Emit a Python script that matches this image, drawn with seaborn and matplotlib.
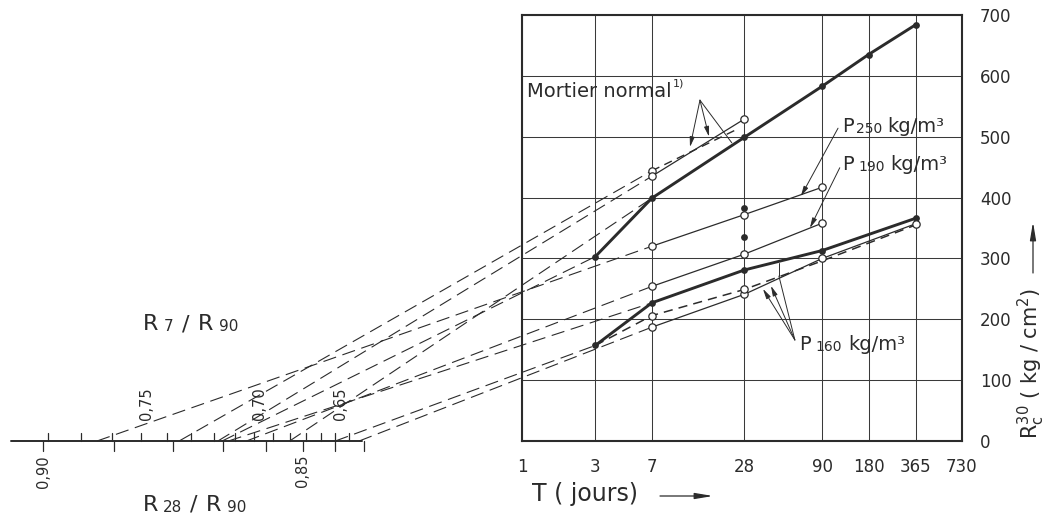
import numpy as np
import pandas as pd
import matplotlib
matplotlib.use("Agg")
import matplotlib.pyplot as plt
import seaborn as sns

# ---------------- data ----------------
x_tick_days = [1, 3, 7, 28, 90, 180, 365, 730]
x_tick_labels = ["1", "3", "7", "28", "90", "180", "365", "730"]
y_ticks = [0, 100, 200, 300, 400, 500, 600, 700]

# Mortier normal : thick curve with filled points
normal_t = [3, 7, 28, 90, 180, 365]
normal_R = [303, 399, 499, 583, 635, 684]
# Mortier normal : thin solid and dashed lines (open points)
normal_thin_t = [7, 28]
normal_thin_R = [435, 529]
normal_dash_t = [7, 25]
normal_dash_R = [444, 512]
normal_open_t = [7, 7, 28]
normal_open_R = [444, 435, 529]

# P250 / P190 (thin, open points)
p250_t = [7, 28, 90]
p250_R = [320, 372, 417]
p190_t = [7, 28, 90]
p190_R = [254, 307, 358]

# P160 : thick (filled), thin (open), dashed
p160_thick_t = [3, 7, 28, 90, 365]
p160_thick_R = [157, 227, 281, 313, 366]
p160_thin_t = [7, 28, 90, 365]
p160_thin_R = [187, 241, 300, 357]
p160_dash_t = [3, 7, 28, 90, 365]
p160_dash_R = [157, 206, 249, 296, 355]
p160_dash_open_t = [7, 28]
p160_dash_open_R = [206, 249]

# isolated filled points at 28 days
extra_filled_t = [28, 28]
extra_filled_R = [383, 335]

# nomogram scales
r7_ticks = [0.78, 0.77, 0.76, 0.75, 0.74, 0.73, 0.72, 0.71, 0.70,
            0.69, 0.68, 0.67, 0.66, 0.65, 0.64]
r7_labels = [0.75, 0.70, 0.65]
r28_ticks = [0.90, 0.89, 0.88, 0.87, 0.86, 0.85, 0.84, 0.83]
r28_labels = [0.90, 0.85]
scale_ends_r28 = [0.904]
scale_ends_r7 = [0.630]

# construction lines: anchor point (t, R) -> value read on R7/R90 scale
constr_t = [7, 7, 7, 7, 7, 3, 7, 3, 7]
constr_R = [444, 435, 320, 254, 399, 303, 227, 157, 187]
constr_r = [0.735, 0.718, 0.765, 0.704, 0.680, 0.716, 0.713, 0.650, 0.632]

# ---------------- style ----------------
sns.set_theme(style="white")
plt.rcParams['font.family'] = ['DejaVu Sans']
INK = '#2b2b2b'
plt.rcParams['text.color'] = INK
plt.rcParams['axes.labelcolor'] = INK
plt.rcParams['xtick.color'] = INK
plt.rcParams['ytick.color'] = INK

fig = plt.figure(figsize=(10.49, 5.19), dpi=100, facecolor='white')
ax = fig.add_axes([0.4976, 0.1503, 0.4194, 0.8208])
ax.set_facecolor('white')


def line(t, R, lw=0.9, ls='-', zorder=3):
    df = pd.DataFrame({'t': t, 'R': R})
    sns.lineplot(data=df, x='t', y='R', ax=ax, color=INK, lw=lw,
                 linestyle=ls, estimator=None, sort=False, zorder=zorder)


def filled(t, R):
    ax.scatter(t, R, s=24, color=INK, zorder=5, linewidths=0)


def opened(t, R):
    ax.scatter(t, R, s=28, facecolor='white', edgecolor=INK,
               linewidths=0.9, zorder=6)


# main curves
line(normal_t, normal_R, lw=2.1)
filled(normal_t, normal_R)
line(normal_thin_t, normal_thin_R, lw=0.9)
line(normal_dash_t, normal_dash_R, lw=1.0, ls=(0, (6, 4)))
opened(normal_open_t, normal_open_R)

line(p250_t, p250_R, lw=0.9)
opened(p250_t, p250_R)
line(p190_t, p190_R, lw=0.9)
opened(p190_t, p190_R)

line(p160_thick_t, p160_thick_R, lw=2.1)
filled(p160_thick_t, p160_thick_R)
line(p160_thin_t, p160_thin_R, lw=0.9)
opened(p160_thin_t, p160_thin_R)
line(p160_dash_t, p160_dash_R, lw=1.1, ls=(0, (6, 4)))
opened(p160_dash_open_t, p160_dash_open_R)
filled(extra_filled_t, extra_filled_R)

# axes setup (after seaborn, which sets its own labels)
ax.set_xscale('log')
ax.set_xlim(1, 730)
ax.set_ylim(0, 700)
ax.xaxis.set_minor_locator(matplotlib.ticker.NullLocator())
ax.set_xticks(x_tick_days)
ax.set_xticklabels(x_tick_labels, fontsize=12)
ax.set_yticks(y_ticks)
ax.set_yticklabels([str(v) for v in y_ticks], fontsize=12)
ax.yaxis.tick_right()
ax.tick_params(axis='x', length=0, pad=12)
ax.tick_params(axis='y', length=0, pad=13)
ax.grid(True, color='#3a3a3a', lw=0.75)
ax.set_axisbelow(True)
for s in ax.spines.values():
    s.set_visible(True)
    s.set_color(INK)
    s.set_linewidth(1.5)
ax.set_xlabel('')
ax.set_ylabel('')


# ---------------- nomogram ----------------
def scale_t(r, t_ref):
    u_ref = np.log10(t_ref)
    u90 = np.log10(90)
    return 10 ** (u_ref - (u90 - u_ref) * r / (1 - r))


left_t = scale_t(scale_ends_r28[0], 28)
right_t = scale_t(scale_ends_r7[0], 7)
ax.plot([left_t, right_t], [0, 0], color=INK, lw=1.4, clip_on=False, zorder=4)

for r in r7_ticks:
    tt = scale_t(r, 7)
    ax.plot([tt, tt], [0, 13], color=INK, lw=0.9, clip_on=False)
for r in r7_labels:
    tt = scale_t(r, 7)
    ax.annotate(('%.2f' % r).replace('.', ','), xy=(tt, 0), xycoords='data',
                xytext=(4, 15), textcoords='offset points', rotation=90,
                ha='center', va='bottom', fontsize=10.5, color=INK,
                annotation_clip=False)
for r in r28_ticks:
    tt = scale_t(r, 28)
    ax.plot([tt, tt], [0, -16], color=INK, lw=0.9, clip_on=False)
for r in r28_labels:
    tt = scale_t(r, 28)
    ax.annotate(('%.2f' % r).replace('.', ','), xy=(tt, 0), xycoords='data',
                xytext=(0, -10), textcoords='offset points', rotation=90,
                ha='center', va='top', fontsize=10.5, color=INK,
                annotation_clip=False)

for t_a, R_a, r in zip(constr_t, constr_R, constr_r):
    t0 = scale_t(r, 7)
    ax.plot([t0, t_a], [0, R_a], color=INK, lw=0.8, ls=(0, (12, 6)),
            clip_on=False, zorder=2)


# ---------------- texts ----------------
def chain(x, y, parts, transform):
    first = parts[0]
    t = ax.text(x, y, first[0], fontsize=first[1], transform=transform,
                ha='left', va='baseline', color=INK)
    for s, fs, dx, dy in parts[1:]:
        t = ax.annotate(s, xy=(1, 0), xycoords=t, xytext=(dx, dy),
                        textcoords='offset points', fontsize=fs,
                        ha='left', va='bottom', color=INK,
                        annotation_clip=False)
    return t


ft = fig.transFigure
chain(143 / 1049, 1 - 330 / 519,
      [("R", 16), ("7", 11, 4, 0), ("/", 16, 6, 0), ("R", 16, 6, 0), ("90", 11, 4, 0)], ft)
chain(143 / 1049, 1 - 511 / 519,
      [("R", 16), ("28", 11, 3, 0), ("/", 16, 6, 0), ("R", 16, 6, 0), ("90", 11, 4, 0)], ft)

chain(1.08, 566, [("Mortier normal", 14), ("1)", 8, 1, 9)], ax.transData)
chain(122, 508, [("P", 14), ("250", 10, 1, 0), ("kg/m³", 14, 4, 0)], ax.transData)
chain(122, 445, [("P", 14), ("190", 10, 3, 0), ("kg/m³", 14, 4, 0)], ax.transData)
chain(64, 150, [("P", 14), ("160", 10, 3, 0), ("kg/m³", 14, 5, 0)], ax.transData)

arrow_kw = dict(arrowstyle='-|>,head_length=0.5,head_width=0.12', color=INK, lw=0.7,
                shrinkA=0, shrinkB=0)
plain_kw = dict(arrowstyle='-', color=INK, lw=0.7, shrinkA=0, shrinkB=0)
# Mortier normal pointers
ax.annotate('', xy=(12.4, 483), xytext=(14.4, 560), arrowprops=arrow_kw)
ax.annotate('', xy=(16.5, 500), xytext=(14.4, 560), arrowprops=arrow_kw)
ax.annotate('', xy=(23.2, 490), xytext=(14.4, 560), arrowprops=plain_kw)
# P250 / P190 pointers
ax.annotate('', xy=(65.3, 402), xytext=(114, 514), arrowprops=arrow_kw)
ax.annotate('', xy=(74.8, 350), xytext=(117, 449), arrowprops=arrow_kw)
# P160 pointers
ax.annotate('', xy=(37, 250), xytext=(59.7, 166), arrowprops=arrow_kw)
ax.annotate('', xy=(41.7, 255), xytext=(59.7, 166), arrowprops=arrow_kw)
ax.annotate('', xy=(47, 271), xytext=(59.7, 166), arrowprops=plain_kw)
ax.plot([47, 47], [271, 292], color=INK, lw=0.7)

# axis titles
fig.text(532 / 1049, 1 - 501 / 519, "T ( jours)", fontsize=17, ha='left',
         va='baseline', color=INK)
ax.annotate('', xy=(713 / 1049, 1 - 496 / 519), xytext=(660 / 1049, 1 - 496 / 519),
            xycoords='figure fraction', textcoords='figure fraction',
            arrowprops=dict(arrowstyle='-|>,head_length=0.9,head_width=0.15',
                            color=INK, lw=0.9, shrinkA=0, shrinkB=0))
fig.text(1031 / 1049, 1 - 363 / 519,
         r'R$_\mathregular{c}^\mathregular{30}$ ( kg / cm$^\mathregular{2}$)',
         rotation=90, fontsize=15, ha='center', va='center', color=INK)
ax.annotate('', xy=(1033 / 1049, 1 - 222 / 519), xytext=(1033 / 1049, 1 - 273 / 519),
            xycoords='figure fraction', textcoords='figure fraction',
            arrowprops=dict(arrowstyle='-|>,head_length=0.9,head_width=0.15',
                            color=INK, lw=0.9, shrinkA=0, shrinkB=0))

fig.savefig("out.png", dpi=100, facecolor='white')
